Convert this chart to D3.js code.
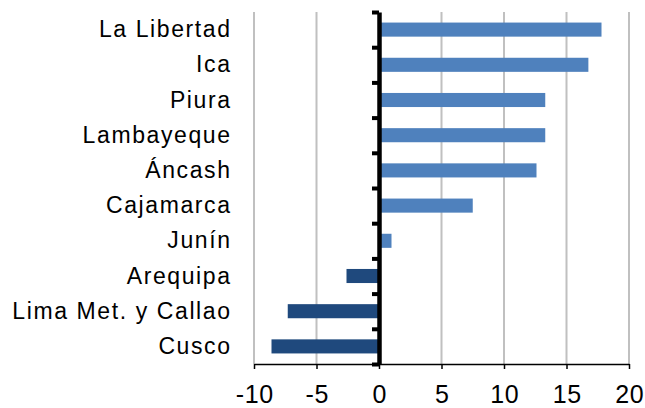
<!DOCTYPE html>
<html>
<head>
<meta charset="utf-8">
<script src="https://cdn.jsdelivr.net/npm/d3@7"></script>
<style>
  html, body { margin: 0; padding: 0; background: #fff; }
  svg { display: block; }
  text { font-family: "Liberation Sans", Arial, sans-serif; fill: #000; }
</style>
</head>
<body>
<svg id="chart" width="645" height="408"></svg>
<script>
const categories = ["La Libertad", "Ica", "Piura", "Lambayeque", "Áncash", "Cajamarca", "Junín", "Arequipa", "Lima Met. y Callao", "Cusco"];
const values = [17.8, 16.75, 13.3, 13.3, 12.6, 7.5, 1.0, -2.6, -7.3, -8.6];
const xTicks = [-10, -5, 0, 5, 10, 15, 20];

(function () {
const svg = d3.select("#chart");
const pLeft = 254, pRight = 629, pTop = 12, pBottom = 364;

const x = d3.scaleLinear().domain([-10, 20]).range([pLeft, pRight]);
const y = d3.scaleBand().domain(categories).range([pTop, pBottom]).paddingInner(0.6).paddingOuter(0.3);

// gridlines
svg.append("g")
  .selectAll("line")
  .data(xTicks.filter(d => d !== 0))
  .join("line")
  .attr("x1", d => x(d)).attr("x2", d => x(d))
  .attr("y1", pTop).attr("y2", pBottom)
  .attr("stroke", "#c0c0c0").attr("stroke-width", 2);

// bars
svg.append("g")
  .selectAll("rect")
  .data(categories.map((c, i) => ({c, v: values[i]})))
  .join("rect")
  .attr("x", d => x(Math.min(0, d.v)))
  .attr("width", d => Math.abs(x(d.v) - x(0)))
  .attr("y", d => y(d.c))
  .attr("height", y.bandwidth())
  .attr("fill", d => d.v >= 0 ? "#4F81BD" : "#1F497D");

// x axis
const xAxis = svg.append("g")
  .attr("transform", `translate(0,${pBottom})`)
  .call(d3.axisBottom(x).tickValues(xTicks).tickSizeInner(5).tickSizeOuter(0).tickFormat(d => d));
xAxis.select(".domain").attr("stroke", "#000").attr("stroke-width", 1.5);
xAxis.selectAll(".tick line").attr("stroke", "#000").attr("stroke-width", 1.5);
xAxis.selectAll(".tick text")
  .attr("y", 38.5).attr("dy", 0)
  .attr("dx", "0.3px")
  .style("font-size", "25px").style("letter-spacing", "0.6px")
  .style("font-family", "'Liberation Sans', Arial, sans-serif")
  .attr("fill", "#000");

// category axis at zero
const idx = d3.scaleLinear().domain([0, categories.length]).range([pTop, pBottom]);
const yAxis = svg.append("g")
  .attr("transform", `translate(${x(0)},0)`)
  .call(d3.axisLeft(idx).tickValues(d3.range(categories.length + 1)).tickSizeInner(7).tickSizeOuter(0).tickFormat(""));
yAxis.select(".domain").attr("stroke", "#000").attr("stroke-width", 4.5);
yAxis.selectAll(".tick line").attr("stroke", "#000").attr("stroke-width", 4);

// category labels
svg.append("g")
  .selectAll("text")
  .data(categories)
  .join("text")
  .attr("x", 231.6)
  .attr("y", d => y(d) + y.bandwidth() / 2)
  .attr("dy", "0.33em")
  .attr("text-anchor", "end")
  .style("font-size", "23px")
  .style("letter-spacing", "1.6px")
  .text(d => d);
})();
</script>
</body>
</html>
